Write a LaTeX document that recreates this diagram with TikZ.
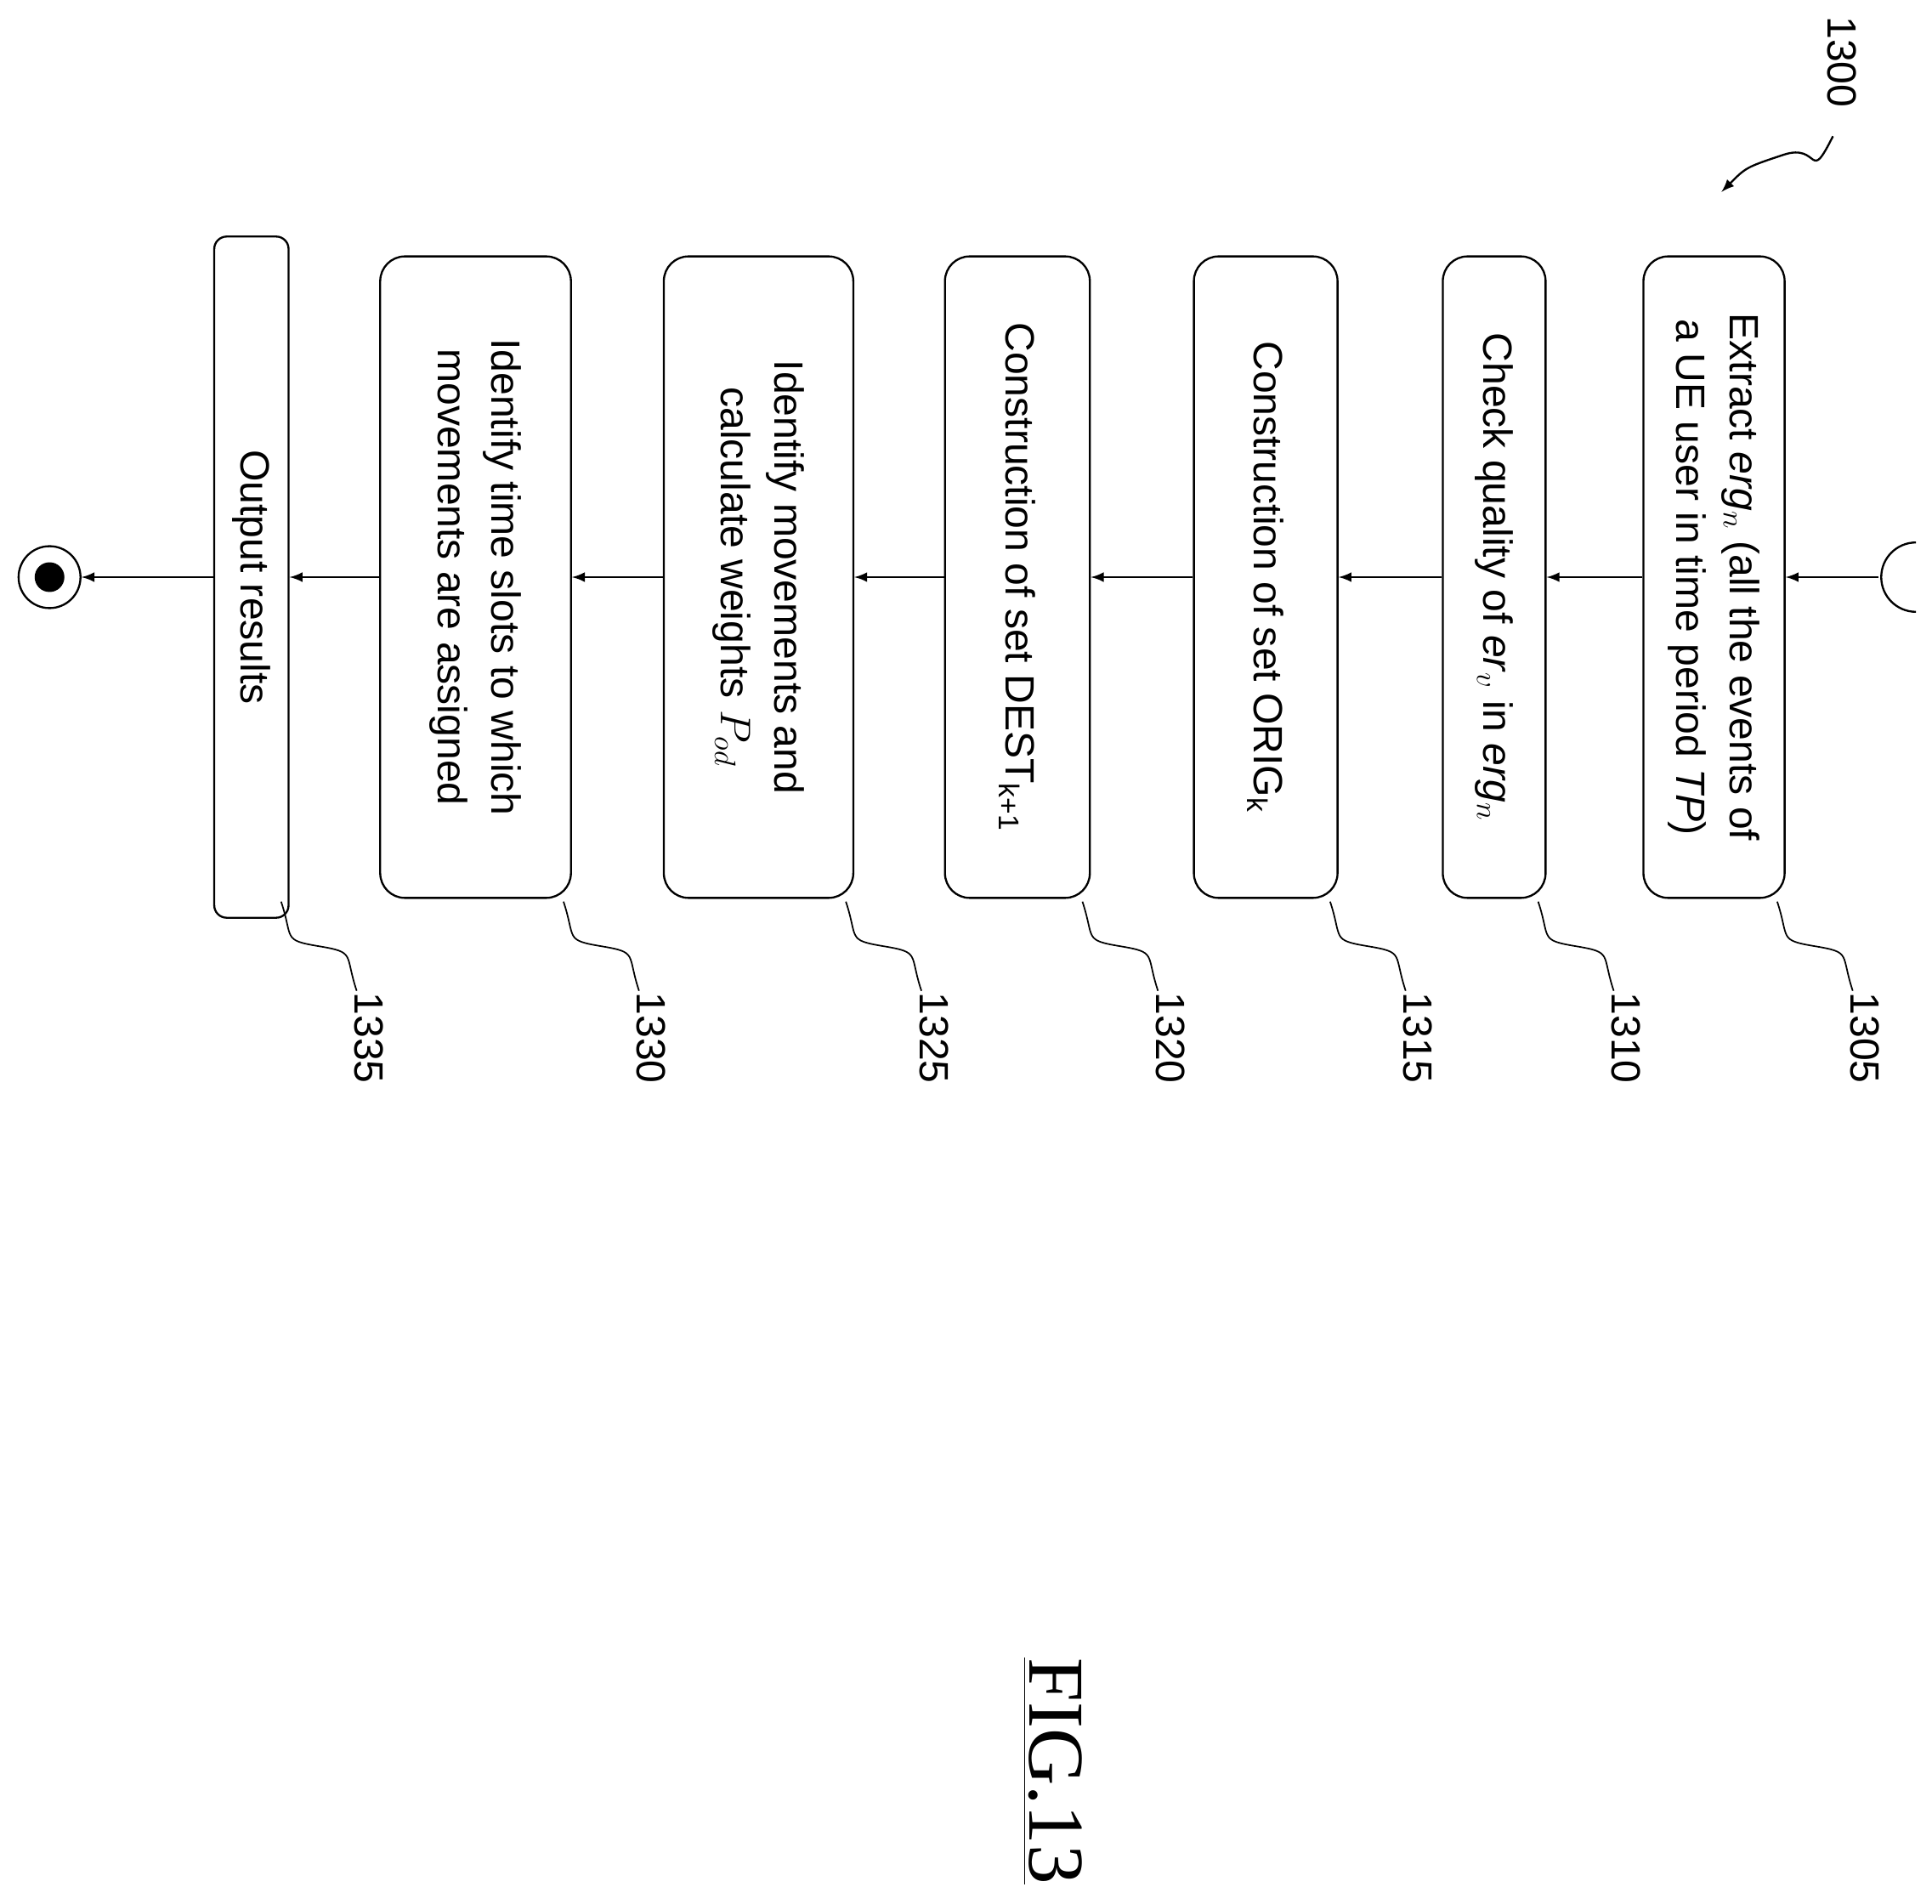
\documentclass[tikz,border=0pt]{standalone}
\usepackage{fontspec}
\setmainfont{Liberation Sans}
\newfontfamily\figfont{Liberation Serif}
\usetikzlibrary{arrows,calc}

\newcommand{\squig}[2]{%
  \draw[semithick] (#1) .. controls +(10,30) and +(-30,-5) .. ($(#1)!0.5!(#2)$)
        .. controls +(30,5) and +(-10,-30) .. (#2);}

\begin{document}
\begin{tikzpicture}[x=0.5pt, y=-0.5pt, >=latex]
  \tikzstyle{stepbox} = [draw, thick, rectangle, rounded corners=10pt, rotate=-90,
    minimum width=259pt, align=center, font=\fontsize{16.5}{21.5}\selectfont]
  \tikzstyle{ref} = [rotate=-90, font=\fontsize{16.5}{18}\selectfont]
  \useasboundingbox (0,0) rectangle (1560,1537);
  % steps
  \node[stepbox, minimum height=57pt] (extract) at (1384,466)
    {Extract \textit{erg}$_n$ (all the events of\\a UE user in time period \textit{TP})};
  \node[stepbox, minimum height=41.5pt] (check) at (1206.5,466)
    {Check quality of \textit{er}$_v$ in \textit{erg}$_n$};
  \node[stepbox, minimum height=58pt] (orig) at (1022,466)
    {Construction of set ORIG\textsubscript{k}};
  \node[stepbox, minimum height=58.5pt] (dest) at (821.5,466)
    {Construction of set DEST\textsubscript{k+1}};
  \node[stepbox, minimum height=76.5pt] (weights) at (612.5,466)
    {Identify movements and\\calculate weights $P_{od}$};
  \node[stepbox, minimum height=77pt] (slots) at (384,466)
    {Identify time slots to which\\movements are assigned};
  \node[stepbox, rounded corners=5pt, minimum width=275pt, minimum height=30pt] (output) at (203,466)
    {Output results};
  % start / end
  \coordinate (start) at (1517,466);
  \draw[thick] (1547,438) arc (270:90:28);
  \node[draw, thick, circle, minimum size=25pt] (finish) at (40,466) {};
  \fill (finish) circle (12);
  \draw[thick,->] (start) -- (extract);
  \draw[thick,->] (extract) -- (check);
  \draw[thick,->] (check) -- (orig);
  \draw[thick,->] (orig) -- (dest);
  \draw[thick,->] (dest) -- (weights);
  \draw[thick,->] (weights) -- (slots);
  \draw[thick,->] (slots) -- (output);
  \draw[thick,->] (output) -- (finish);
  % reference numerals
  \foreach \xr/\num in {1441/1305, 1248/1310, 1080/1315, 880/1320, 689/1325, 461/1330, 233/1335} {
    \coordinate (a\num) at (\xr-6,728);
    \coordinate (b\num) at (\xr+55,800);
    \squig{a\num}{b\num}
    \node[ref] (l\num) at (\xr+65,838) {\num};
  }
  \node[ref] (l1300) at (1487,50) {1300};
  \draw[thick,->] (1480,110) .. controls +(-20,40) and +(30,-10) .. (1440,125)
    .. controls +(-30,10) and +(20,-20) .. (1390,155);
  % figure label
  \node[rotate=-90, font=\figfont\fontsize{32}{36}\selectfont] (fig) at (850,1430) {\underline{FIG.13}};
\end{tikzpicture}
\end{document}
